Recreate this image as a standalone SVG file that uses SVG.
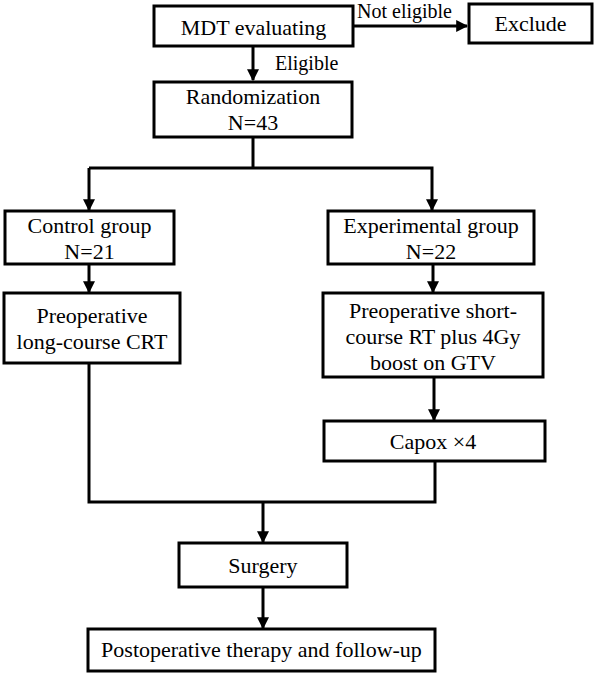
<svg xmlns="http://www.w3.org/2000/svg" width="597" height="673" viewBox="0 0 597 673">
<style>
.box{fill:#fff;stroke:#000;stroke-width:3}
.t{font-family:"Liberation Serif","Times New Roman",serif;font-size:22px;fill:#000;text-anchor:middle}
.lbl{font-family:"Liberation Serif","Times New Roman",serif;font-size:20px;fill:#000}
.c{fill:none;stroke:#000;stroke-width:3}
</style>
<defs>
<marker id="ah" viewBox="0 0 10 10" refX="9" refY="5" markerWidth="4" markerHeight="4" orient="auto" markerUnits="strokeWidth">
<path d="M0,0 L10,5 L0,10 Z" fill="#000"/>
</marker>
</defs>
<rect width="597" height="673" fill="#fff"/>
<g id="connectors">
<line class="c" x1="353" y1="26" x2="467" y2="26" marker-end="url(#ah)"/>
<line class="c" x1="253" y1="47" x2="253" y2="80" marker-end="url(#ah)"/>
<polyline class="c" points="253,137 253,168"/>
<polyline class="c" points="89,168 432,168 432,210" marker-end="url(#ah)"/>
<line class="c" x1="89" y1="168" x2="89" y2="210" marker-end="url(#ah)"/>
<line class="c" x1="89" y1="264" x2="89" y2="292" marker-end="url(#ah)"/>
<line class="c" x1="433" y1="264" x2="433" y2="292" marker-end="url(#ah)"/>
<line class="c" x1="434" y1="377" x2="434" y2="420" marker-end="url(#ah)"/>
<polyline class="c" points="89,363 89,502 435,502 435,461"/>
<line class="c" x1="263" y1="502" x2="263" y2="542" marker-end="url(#ah)"/>
<line class="c" x1="263" y1="587" x2="263" y2="628" marker-end="url(#ah)"/>
<text class="lbl" x="357" y="18">Not eligible</text>
<text class="lbl" x="275" y="70">Eligible</text>
</g>
<g id="mdt">
<rect class="box" x="154" y="6" width="199" height="40"/>
<text class="t" x="253.5" y="35">MDT evaluating</text>
</g>
<g id="exclude">
<rect class="box" x="469" y="4" width="123" height="39"/>
<text class="t" x="530.5" y="31">Exclude</text>
</g>
<g id="randomization">
<rect class="box" x="154" y="82" width="198" height="55"/>
<text class="t" x="253" y="104">Randomization</text>
<text class="t" x="253" y="130">N=43</text>
</g>
<g id="control">
<rect class="box" x="5" y="211" width="169" height="53"/>
<text class="t" x="89.5" y="233">Control group</text>
<text class="t" x="89.5" y="259">N=21</text>
</g>
<g id="experimental">
<rect class="box" x="328" y="211" width="206" height="53"/>
<text class="t" x="431" y="233">Experimental group</text>
<text class="t" x="431" y="259">N=22</text>
</g>
<g id="long-course">
<rect class="box" x="4" y="293" width="176" height="70"/>
<text class="t" x="92" y="323">Preoperative</text>
<text class="t" x="92" y="349">long-course CRT</text>
</g>
<g id="short-course">
<rect class="box" x="323" y="293" width="220" height="84"/>
<text class="t" x="433" y="318">Preoperative short-</text>
<text class="t" x="433" y="344">course RT plus 4Gy</text>
<text class="t" x="433" y="370">boost on GTV</text>
</g>
<g id="capox">
<rect class="box" x="324" y="421" width="221" height="40"/>
<text class="t" x="433" y="449">Capox ×4</text>
</g>
<g id="surgery">
<rect class="box" x="179" y="543" width="168" height="44"/>
<text class="t" x="263" y="573">Surgery</text>
</g>
<g id="postop">
<rect class="box" x="88" y="629" width="347" height="42"/>
<text class="t" x="261.5" y="657">Postoperative therapy and follow-up</text>
</g>
</svg>
